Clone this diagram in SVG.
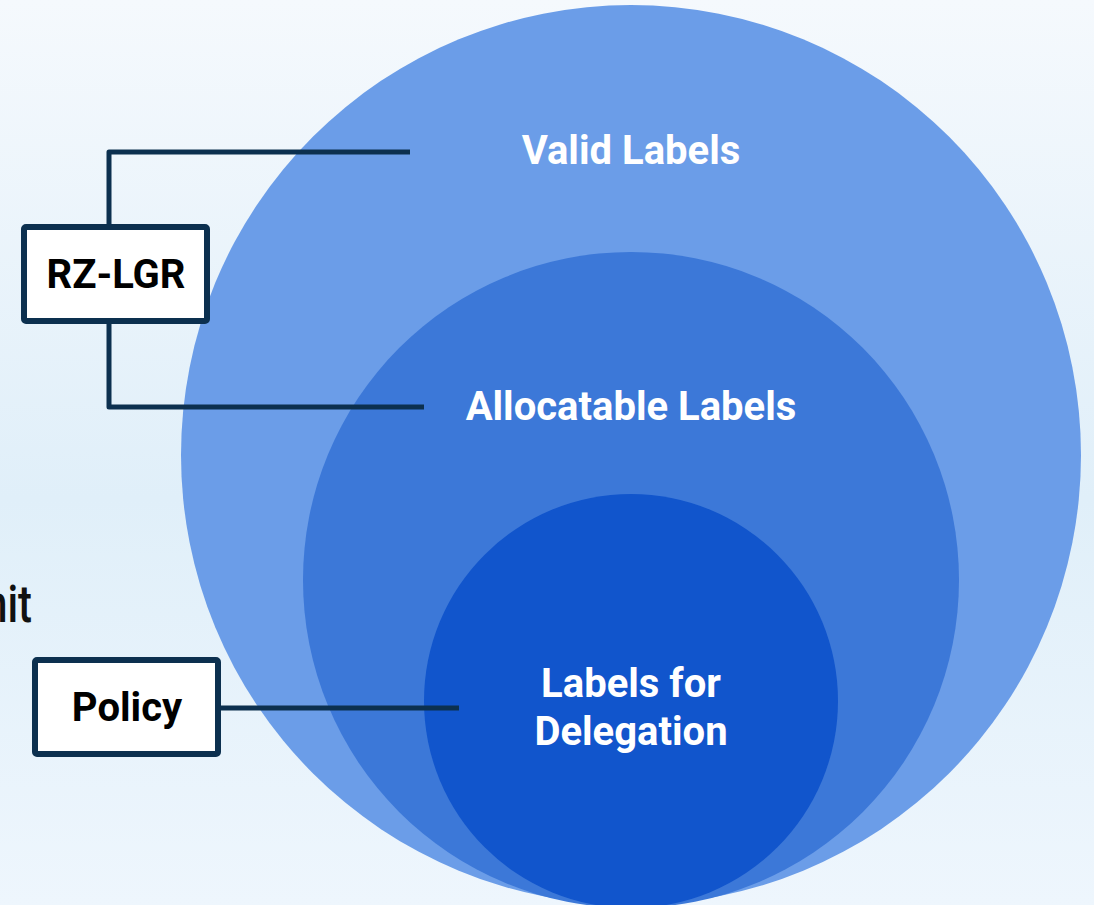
<svg xmlns="http://www.w3.org/2000/svg" width="1094" height="905" viewBox="0 0 1094 905">
  <defs>
    <linearGradient id="bg" x1="0" y1="0" x2="0" y2="1">
      <stop offset="0" stop-color="#f5f9fd"/>
      <stop offset="0.55" stop-color="#e0eff9"/>
      <stop offset="1" stop-color="#eef6fd"/>
    </linearGradient>
    <style>
      .ring-text { font-family: Roboto, "Liberation Sans", sans-serif; font-weight: 700; font-size: 40px; fill: #ffffff; text-anchor: middle; }
      .box { fill: #ffffff; stroke: #0c304f; stroke-width: 6; }
      .box-text { font-family: Roboto, "Liberation Sans", sans-serif; font-weight: 700; font-size: 40px; fill: #000000; text-anchor: middle; }
      .link { fill: none; stroke: #0c304f; stroke-width: 5; stroke-linejoin: round; }
      .side-text { font-family: Roboto, "Liberation Sans", sans-serif; font-weight: 500; font-size: 51px; fill: #111111; }
    </style>
  </defs>

  <rect x="0" y="0" width="1094" height="905" fill="url(#bg)"/>

  <!-- partially visible side caption -->
  <text class="side-text" transform="translate(32,622) scale(0.82,1)" text-anchor="end">nit</text>

  <!-- nested label sets -->
  <g id="valid-labels">
    <circle cx="631" cy="455" r="450" fill="#6b9de8"/>
    <text class="ring-text" x="631" y="164">Valid Labels</text>
  </g>
  <g id="allocatable-labels">
    <circle cx="631" cy="580" r="328" fill="#3c78d8"/>
    <text class="ring-text" x="631" y="420">Allocatable Labels</text>
  </g>
  <g id="delegation-labels">
    <circle cx="631" cy="701" r="207" fill="#1155cc"/>
    <text class="ring-text" x="631" y="697">Labels for</text>
    <text class="ring-text" x="631" y="745">Delegation</text>
  </g>

  <!-- connectors -->
  <g id="connectors">
    <path class="link" d="M109 227 V152 H410"/>
    <path class="link" d="M109 321 V407 H424"/>
    <path class="link" d="M218 708 H459"/>
  </g>

  <g id="rz-lgr">
    <rect class="box" x="24" y="227" width="183" height="94" rx="2"/>
    <text class="box-text" x="116" y="288">RZ-LGR</text>
  </g>
  <g id="policy">
    <rect class="box" x="35" y="660" width="183" height="94" rx="2"/>
    <text class="box-text" x="127" y="721">Policy</text>
  </g>
</svg>
